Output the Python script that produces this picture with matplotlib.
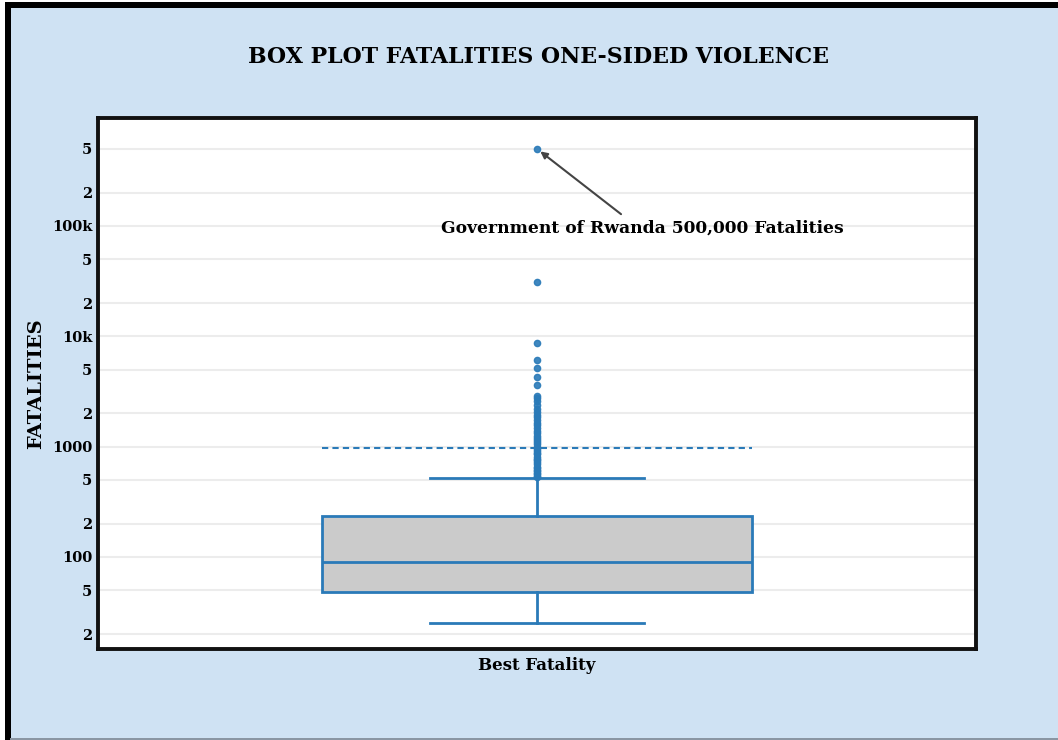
import matplotlib.pyplot as plt
import matplotlib.ticker as mticker
from matplotlib.patches import Rectangle

# summary of best fatality estimates (one-sided violence events)
q1 = 48
median = 90
q3 = 235
whisker_low = 25
whisker_high = 515
mean_fatalities = 970
outliers = [530, 545, 560, 580, 600, 620, 640, 660, 690, 720, 750, 780, 810, 850,
            880, 920, 960, 1000, 1050, 1100, 1150, 1200, 1260, 1320, 1400, 1480,
            1560, 1650, 1750, 1850, 1950, 2050, 2200, 2400, 2600, 2750, 2900,
            3600, 4300, 5200, 6100, 8650, 31000, 500000]

tick_values = [20, 50, 100, 200, 500, 1000, 2000, 5000, 10000, 20000, 50000,
               100000, 200000, 500000]
tick_labels = ['2', '5', '100', '2', '5', '1000', '2', '5', '10k', '2', '5',
               '100k', '2', '5']

blue = '#2a7ab8'
bg = '#cfe2f3'
font = 'DejaVu Serif'

fig = plt.figure(figsize=(10.58, 7.40), dpi=100, facecolor='white')
W, H = 1058, 740
# page background and the dark frame on top/left
fig.patches.append(Rectangle((10 / W, 2 / H), 1, 1 - 10 / H, transform=fig.transFigure,
                             facecolor=bg, edgecolor='none', zorder=-3))
fig.patches.append(Rectangle((5 / W, 0), 6 / W, 1 - 2 / H, transform=fig.transFigure,
                             facecolor='black', edgecolor='none', zorder=-2))
fig.patches.append(Rectangle((5 / W, 1 - 8 / H), 1, 6 / H, transform=fig.transFigure,
                             facecolor='black', edgecolor='none', zorder=-2))
fig.patches.append(Rectangle((10 / W, 0), 1, 2 / H, transform=fig.transFigure,
                             facecolor='#8a96a3', edgecolor='none', zorder=-2))

ax = fig.add_axes([98 / W, 1 - 649 / H, 878 / W, 531 / H])
ax.set_facecolor('white')

stats = [dict(med=median, q1=q1, q3=q3, whislo=whisker_low, whishi=whisker_high,
              mean=mean_fatalities, fliers=outliers, label='Best Fatality')]
ax.bxp(stats, positions=[0], widths=0.489, patch_artist=True,
       showmeans=True, meanline=True,
       boxprops=dict(facecolor='#cbcbcb', edgecolor=blue, linewidth=2),
       medianprops=dict(color=blue, linewidth=2),
       whiskerprops=dict(color=blue, linewidth=2),
       capprops=dict(color=blue, linewidth=2),
       meanprops=dict(color=blue, linestyle=(0, (3, 2)), linewidth=1.5),
       flierprops=dict(marker='o', markerfacecolor=blue, markeredgecolor=blue,
                       markersize=4.5, alpha=0.9))

ax.set_yscale('log')
ax.set_ylim(14.66, 952000)
ax.set_xlim(-0.5, 0.5)
ax.yaxis.set_major_locator(mticker.FixedLocator(tick_values))
ax.yaxis.set_major_formatter(mticker.FixedFormatter(tick_labels))
ax.yaxis.set_minor_locator(mticker.NullLocator())
ax.tick_params(axis='y', length=0, pad=4)
for lab in ax.get_yticklabels():
    lab.set_fontfamily(font)
    lab.set_fontweight('bold')
    lab.set_fontsize(10.5)
ax.set_xticks([0])
ax.set_xticklabels(['Best Fatality'], fontfamily=font, fontweight='bold', fontsize=12)
ax.tick_params(axis='x', length=0, pad=6)
ax.grid(axis='y', color='#ececec', linewidth=1.5)
ax.set_axisbelow(True)
for sp in ax.spines.values():
    sp.set_linewidth(2.8)
    sp.set_color('#111111')

ax.set_ylabel('FATALITIES', fontfamily=font, fontweight='bold', fontsize=14, labelpad=5)
fig.text(538 / W, 1 - 57 / H, 'BOX PLOT FATALITIES ONE-SIDED VIOLENCE', ha='center',
         va='center', fontfamily=font, fontweight='bold', fontsize=15.8)

ax.annotate('Government of Rwanda 500,000 Fatalities', xy=(0, 500000),
            xytext=(642 / W, 1 - 228 / H), textcoords='figure fraction',
            ha='center', va='center', fontfamily=font, fontweight='bold', fontsize=12.3,
            arrowprops=dict(arrowstyle='-|>', color='#444444', lw=1.5,
                            shrinkA=3, shrinkB=3, mutation_scale=10,
                            relpos=(0.465, 1.0)))

fig.savefig('out.png', dpi=100, facecolor=fig.get_facecolor())
